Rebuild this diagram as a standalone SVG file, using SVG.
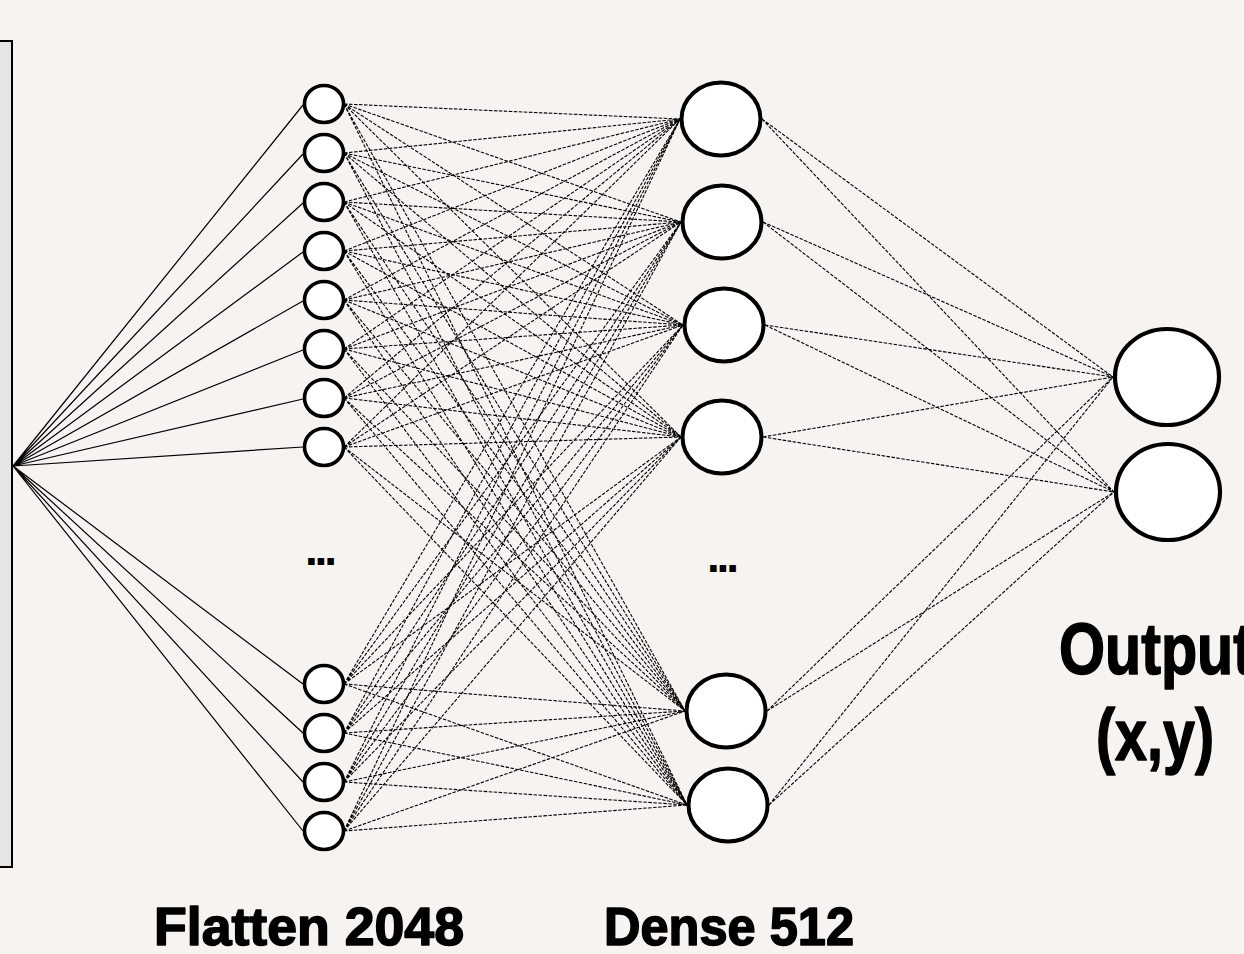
<svg xmlns="http://www.w3.org/2000/svg" width="1244" height="954" viewBox="0 0 1244 954">
<style>
.bg{fill:#f6f3f0}
.solid{stroke:#000;stroke-width:1.2;fill:none}
.dash{stroke:#000;stroke-width:1.1;fill:none;stroke-dasharray:3.5 1.5}
.fn{fill:#fff;stroke:#000;stroke-width:3.6}
.dn{fill:#fff;stroke:#000;stroke-width:4}
.on{fill:#fff;stroke:#000;stroke-width:4.2}
.lbl{font-family:"Liberation Sans",Arial,sans-serif;font-weight:bold;fill:#000;stroke:#000;stroke-width:1.6;stroke-linejoin:round}
.dots{font-family:"Liberation Sans",Arial,sans-serif;font-weight:bold;fill:#000}
</style>
<rect class="bg" x="0" y="0" width="1244" height="954"/>
<g id="input">
<rect x="-4" y="41" width="16" height="826" fill="#e5e5e5" stroke="#000" stroke-width="2"/>
</g>
<g id="connectors">
<path class="solid" d="M13 466L303 105M13 466L303 154M13 466L303 203M13 466L303 252M13 466L303 301M13 466L303 350M13 466L303 399M13 466L303 447M13 466L303 684M13 466L303 733M13 466L303 782M13 466L303 831"/>
<path class="dash" d="M344 104L680 119M344 104L681 222M344 104L683 325M344 104L681 437M344 104L685 711M344 104L687 805"/>
<path class="dash" d="M344 153L680 119M344 153L681 222M344 153L683 325M344 153L681 437M344 153L685 711M344 153L687 805"/>
<path class="dash" d="M344 202L680 119M344 202L681 222M344 202L683 325M344 202L681 437M344 202L685 711M344 202L687 805"/>
<path class="dash" d="M344 251L680 119M344 251L681 222M344 251L683 325M344 251L681 437M344 251L685 711M344 251L687 805"/>
<path class="dash" d="M344 300L680 119M344 300L681 222M344 300L683 325M344 300L681 437M344 300L685 711M344 300L687 805"/>
<path class="dash" d="M344 349L680 119M344 349L681 222M344 349L683 325M344 349L681 437M344 349L685 711M344 349L687 805"/>
<path class="dash" d="M344 398L680 119M344 398L681 222M344 398L683 325M344 398L681 437M344 398L685 711M344 398L687 805"/>
<path class="dash" d="M344 447L680 119M344 447L681 222M344 447L683 325M344 447L681 437M344 447L685 711M344 447L687 805"/>
<path class="dash" d="M344 684L680 119M344 684L681 222M344 684L683 325M344 684L681 437M344 684L685 711M344 684L687 805"/>
<path class="dash" d="M344 733L680 119M344 733L681 222M344 733L683 325M344 733L681 437M344 733L685 711M344 733L687 805"/>
<path class="dash" d="M344 782L680 119M344 782L681 222M344 782L683 325M344 782L681 437M344 782L685 711M344 782L687 805"/>
<path class="dash" d="M344 831L680 119M344 831L681 222M344 831L683 325M344 831L681 437M344 831L685 711M344 831L687 805"/>
<path class="dash" d="M762 119L1113 377M762 119L1114 492M763 222L1113 377M763 222L1114 492M765 325L1113 377M765 325L1114 492M763 437L1113 377M763 437L1114 492M767 711L1113 377M767 711L1114 492M769 805L1113 377M769 805L1114 492"/>
</g>
<g id="flatten">
<ellipse id="f1" class="fn" cx="324" cy="104" rx="19.5" ry="18.5"/>
<ellipse id="f2" class="fn" cx="324" cy="153" rx="19.5" ry="18.5"/>
<ellipse id="f3" class="fn" cx="324" cy="202" rx="19.5" ry="18.5"/>
<ellipse id="f4" class="fn" cx="324" cy="251" rx="19.5" ry="18.5"/>
<ellipse id="f5" class="fn" cx="324" cy="300" rx="19.5" ry="18.5"/>
<ellipse id="f6" class="fn" cx="324" cy="349" rx="19.5" ry="18.5"/>
<ellipse id="f7" class="fn" cx="324" cy="398" rx="19.5" ry="18.5"/>
<ellipse id="f8" class="fn" cx="324" cy="447" rx="19.5" ry="18.5"/>
<ellipse id="f9" class="fn" cx="324" cy="684" rx="19.5" ry="18.5"/>
<ellipse id="f10" class="fn" cx="324" cy="733" rx="19.5" ry="18.5"/>
<ellipse id="f11" class="fn" cx="324" cy="782" rx="19.5" ry="18.5"/>
<ellipse id="f12" class="fn" cx="324" cy="831" rx="19.5" ry="18.5"/>
<text class="dots" x="305" y="565" font-size="46" textLength="32" lengthAdjust="spacing">...</text>
</g>
<g id="dense">
<ellipse id="d1" class="dn" cx="721" cy="119" rx="39.5" ry="36.5"/>
<ellipse id="d2" class="dn" cx="722" cy="222" rx="39.5" ry="36.5"/>
<ellipse id="d3" class="dn" cx="724" cy="325" rx="39.5" ry="36.5"/>
<ellipse id="d4" class="dn" cx="722" cy="437" rx="39.5" ry="36.5"/>
<ellipse id="d5" class="dn" cx="726" cy="711" rx="39.5" ry="36.5"/>
<ellipse id="d6" class="dn" cx="728" cy="805" rx="39.5" ry="36.5"/>
<text class="dots" x="707" y="572" font-size="46" textLength="32" lengthAdjust="spacing">...</text>
</g>
<g id="output">
<ellipse id="o1" class="on" cx="1167" cy="377" rx="52" ry="48"/>
<ellipse id="o2" class="on" cx="1168" cy="492" rx="52" ry="48"/>
</g>
<g id="labels">
<text class="lbl" x="154" y="945" font-size="54" textLength="310" lengthAdjust="spacingAndGlyphs">Flatten 2048</text>
<text class="lbl" x="604" y="945" font-size="54" textLength="250" lengthAdjust="spacingAndGlyphs">Dense 512</text>
<text class="lbl" x="1059" y="674" font-size="72" textLength="194" lengthAdjust="spacingAndGlyphs">Output</text>
<text class="lbl" x="1096" y="760" font-size="72" textLength="118" lengthAdjust="spacingAndGlyphs">(x,y)</text>
</g>
</svg>
